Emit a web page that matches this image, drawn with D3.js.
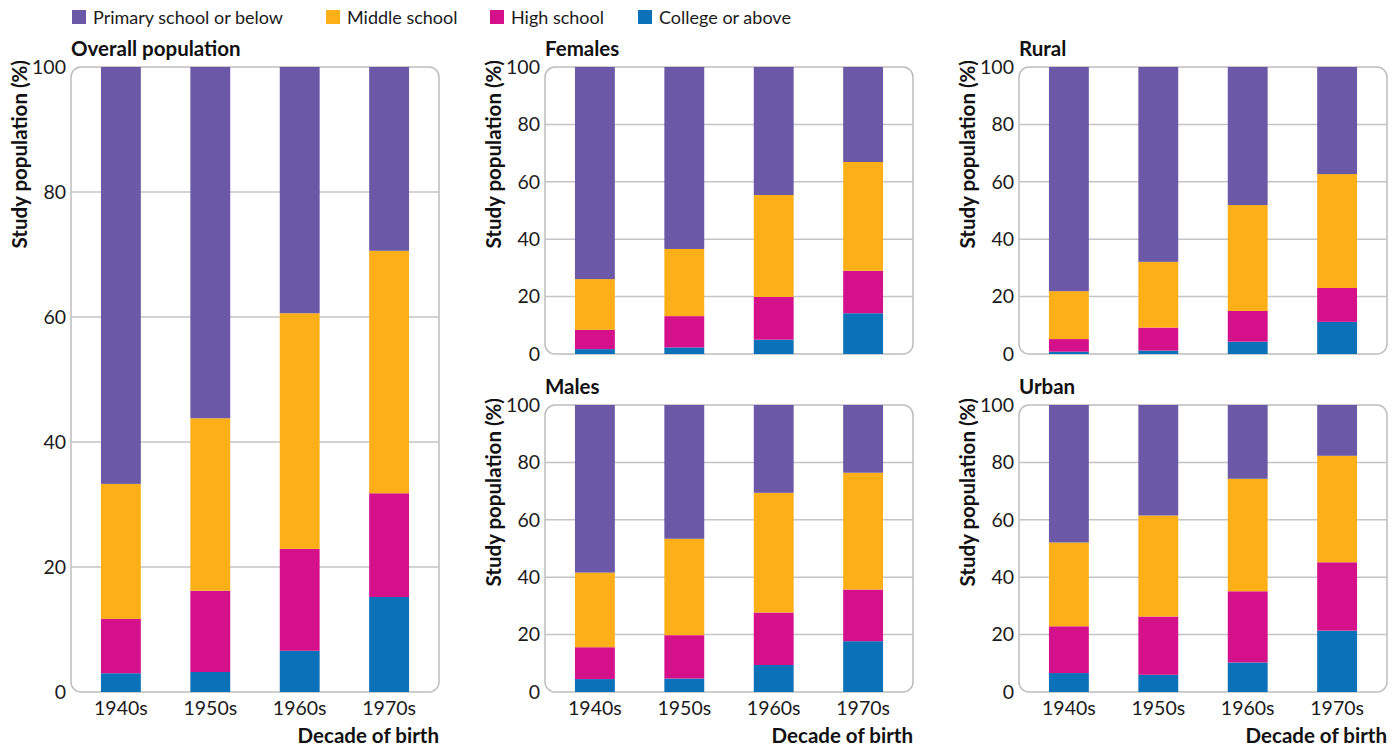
<!DOCTYPE html>
<html>
<head>
<meta charset="utf-8">
<script src="https://cdn.jsdelivr.net/npm/d3@7"></script>
<style>
  body { margin: 0; background: #fff; }
  svg { font-family: Lato, "Noto Sans", sans-serif; }
</style>
</head>
<body>
<svg id="chart" width="1400" height="746"></svg>
<script>
const DECADES = ['1940s', '1950s', '1960s', '1970s'];
const LEVELS = ['College or above', 'High school', 'Middle school', 'Primary school or below'];
const LEGEND_ORDER = ['Primary school or below', 'Middle school', 'High school', 'College or above'];
const COLORS = ['#0b71b9', '#d4108b', '#fcaf17', '#6b58a6'];
const Y_TICKS = [0, 20, 40, 60, 80, 100];

// percentages per decade, bottom segment first
const OVERALL_COLLEGE = [3.0, 3.2, 6.6, 15.2];
const OVERALL_HIGH = [8.7, 13.0, 16.3, 16.6];
const OVERALL_MIDDLE = [21.6, 27.6, 37.7, 38.8];
const OVERALL_PRIMARY = [66.7, 56.2, 39.4, 29.4];

const FEMALES_COLLEGE = [1.7, 2.3, 5.0, 14.2];
const FEMALES_HIGH = [6.7, 10.9, 14.9, 14.8];
const FEMALES_MIDDLE = [17.7, 23.4, 35.5, 37.9];
const FEMALES_PRIMARY = [73.9, 63.4, 44.6, 33.1];

const MALES_COLLEGE = [4.5, 4.7, 9.4, 17.7];
const MALES_HIGH = [11.1, 15.1, 18.3, 18.0];
const MALES_MIDDLE = [26.0, 33.6, 41.7, 40.7];
const MALES_PRIMARY = [58.4, 46.6, 30.6, 23.6];

const RURAL_COLLEGE = [0.8, 1.2, 4.3, 11.2];
const RURAL_HIGH = [4.4, 8.0, 10.7, 11.8];
const RURAL_MIDDLE = [16.7, 22.9, 36.9, 39.7];
const RURAL_PRIMARY = [78.1, 67.9, 48.1, 37.3];

const URBAN_COLLEGE = [6.6, 6.0, 10.3, 21.4];
const URBAN_HIGH = [16.3, 20.3, 24.8, 23.8];
const URBAN_MIDDLE = [29.2, 35.2, 39.2, 37.1];
const URBAN_PRIMARY = [47.9, 38.5, 25.7, 17.7];

const toRows = (series) =>
  DECADES.map((dec, i) => {
    const row = { decade: dec };
    LEVELS.forEach((k, j) => (row[k] = series[j][i]));
    return row;
  });

const PANELS = [
  { title: 'Overall population', left: 71, top: 67, w: 368, h: 625,
    rows: toRows([OVERALL_COLLEGE, OVERALL_HIGH, OVERALL_MIDDLE, OVERALL_PRIMARY]) },
  { title: 'Females', left: 545, top: 67, w: 368, h: 287, noX: true,
    rows: toRows([FEMALES_COLLEGE, FEMALES_HIGH, FEMALES_MIDDLE, FEMALES_PRIMARY]) },
  { title: 'Males', left: 545, top: 405, w: 368, h: 287,
    rows: toRows([MALES_COLLEGE, MALES_HIGH, MALES_MIDDLE, MALES_PRIMARY]) },
  { title: 'Rural', left: 1019, top: 67, w: 368, h: 287, noX: true,
    rows: toRows([RURAL_COLLEGE, RURAL_HIGH, RURAL_MIDDLE, RURAL_PRIMARY]) },
  { title: 'Urban', left: 1019, top: 405, w: 368, h: 287,
    rows: toRows([URBAN_COLLEGE, URBAN_HIGH, URBAN_MIDDLE, URBAN_PRIMARY]) },
];

const SVG = d3.select('#chart');
const COLOR = d3.scaleOrdinal().domain(LEVELS).range(COLORS);
const STACK = d3.stack().keys(LEVELS);

PANELS.forEach((p) => {
  const g = SVG.append('g').attr('transform', `translate(${p.left},${p.top})`);

  const X = d3.scaleBand().domain(DECADES).range([0, p.w]).paddingInner(0.554).paddingOuter(0.335);
  const Y = d3.scaleLinear().domain([0, 100]).range([p.h, 0]);

  // frame
  g.append('rect')
    .attr('x', 0).attr('y', 0)
    .attr('width', p.w).attr('height', p.h)
    .attr('rx', 10)
    .style('fill', 'none')
    .style('stroke', '#bdbdbd')
    .style('stroke-width', 1.5);

  // gridlines
  g.append('g')
    .selectAll('line')
    .data(Y_TICKS.filter((t) => t > 0 && t < 100))
    .join('line')
    .attr('x1', 0).attr('x2', p.w)
    .attr('y1', (d) => Y(d)).attr('y2', (d) => Y(d))
    .style('stroke', '#c4c4c8')
    .style('stroke-width', 1.5);

  // bars
  g.append('g')
    .selectAll('g')
    .data(STACK(p.rows))
    .join('g')
    .style('fill', (d) => COLOR(d.key))
    .selectAll('rect')
    .data((d) => d)
    .join('rect')
    .attr('x', (d) => X(d.data.decade))
    .attr('width', X.bandwidth())
    .attr('y', (d) => Y(d[1]))
    .attr('height', (d) => Y(d[0]) - Y(d[1]));

  // y axis
  const yAxis = g.append('g').call(d3.axisLeft(Y).tickValues(Y_TICKS).tickSize(0).tickPadding(5));
  yAxis.select('.domain').remove();
  yAxis.selectAll('text').style('font-size', '19.5px').style('fill', '#1a1a1a').style('font-family', 'Lato, sans-serif');

  g.append('text')
    .attr('transform', `translate(${-44},${-7}) rotate(-90)`)
    .style('text-anchor', 'end')
    .style('font-size', '20.5px')
    .style('font-weight', '700')
    .style('fill', '#111')
    .text('Study population (%)');

  // panel title
  g.append('text')
    .attr('x', 0).attr('y', -11)
    .style('font-size', '20.5px')
    .style('font-weight', '700')
    .style('fill', '#111')
    .text(p.title);

  if (!p.noX) {
    const xAxis = g.append('g')
      .attr('transform', `translate(0,${p.h})`)
      .call(d3.axisBottom(X).tickSize(0).tickPadding(9));
    xAxis.select('.domain').remove();
    xAxis.selectAll('text').style('font-size', '19.5px').style('fill', '#1a1a1a').style('font-family', 'Lato, sans-serif');

    g.append('text')
      .attr('x', p.w).attr('y', p.h + 51)
      .style('text-anchor', 'end')
      .style('font-size', '20.5px')
      .style('font-weight', '700')
      .style('fill', '#111')
      .text('Decade of birth');
  }
});

// legend
const LEGEND_X = [72, 326, 490, 638];
const legend = SVG.append('g')
  .selectAll('g')
  .data(LEGEND_ORDER)
  .join('g')
  .attr('transform', (d, i) => `translate(${LEGEND_X[i]},10)`);
legend.append('rect')
  .attr('width', 14).attr('height', 14)
  .style('fill', (d) => COLOR(d));
legend.append('text')
  .attr('x', 21).attr('y', 14)
  .style('font-size', '18px')
  .style('fill', '#1a1a1a')
  .text((d) => d);
</script>
</body>
</html>
